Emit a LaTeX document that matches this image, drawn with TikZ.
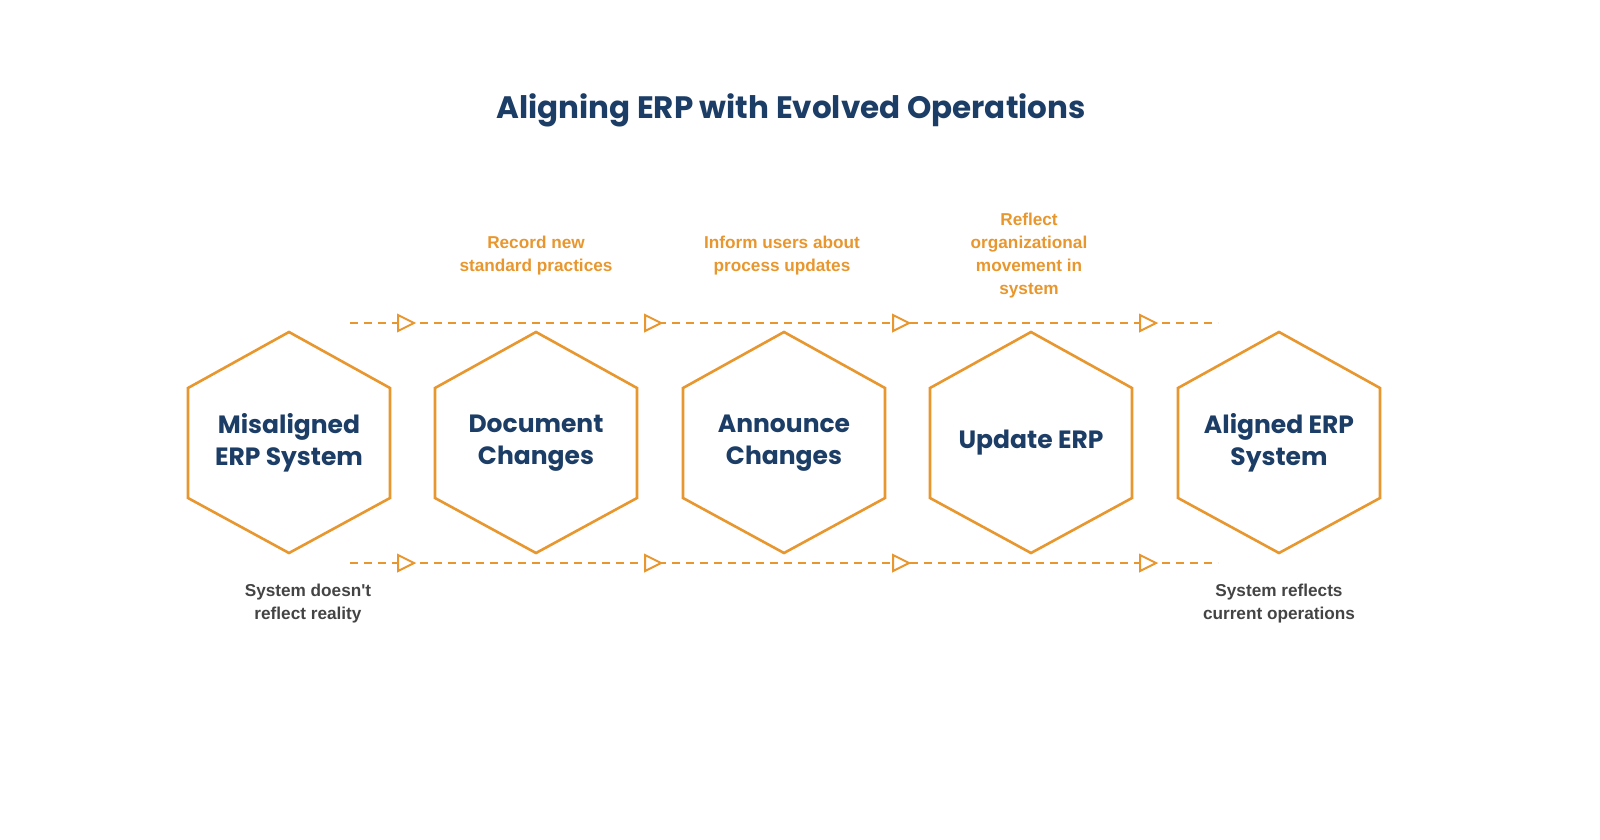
\documentclass[tikz,border=0pt]{standalone}
\usepackage{fontspec}
\setmainfont{Liberation Sans}
\newfontfamily\headfont{Poppins}
\begin{document}
\definecolor{navy}{HTML}{1C3D66}
\definecolor{org}{HTML}{E8962E}
\definecolor{gry}{HTML}{444444}
\begin{tikzpicture}[x=0.5pt,y=-0.5pt,
  hex/.style={draw=org,line width=1.3pt,fill=white},
  htxt/.style={text=navy,font=\headfont\bfseries\fontsize{12.5}{16}\selectfont,align=center},
  otxt/.style={text=org,font=\bfseries\fontsize{8.6}{11.5}\selectfont,align=center},
  gtxt/.style={text=gry,font=\bfseries\fontsize{8.6}{11.5}\selectfont,align=center},
  dline/.style={draw=org,line width=1pt,dash pattern=on 4pt off 3pt},
  tri/.style={draw=org,line width=1pt,fill=white}]
\useasboundingbox (0,0) rectangle (1600,840);
\node[text=navy,font=\headfont\bfseries\fontsize{15.5}{18}\selectfont] (title) at (791,110) {Aligning ERP with Evolved Operations};
\coordinate (tl) at (350,323); \coordinate (tr) at (1218,323);
\coordinate (bl) at (350,563); \coordinate (br) at (1218,563);
\draw[dline] (tl) -- (tr);
\draw[dline] (bl) -- (br);
\foreach \x in {405,652,900,1147}{
  \draw[tri] (\x-7,315) -- (\x+9,323) -- (\x-7,331) -- cycle;
  \draw[tri] (\x-7,555) -- (\x+9,563) -- (\x-7,571) -- cycle;
}
\foreach \x/\n/\t in {289/h1/{Misaligned\\ERP System},536/h2/{Document\\Changes},784/h3/{Announce\\Changes},1031/h4/{Update ERP},1279/h5/{Aligned ERP\\System}}{
  \draw[hex] (\x,332) -- (\x+101,388) -- (\x+101,498) -- (\x,553) -- (\x-101,498) -- (\x-101,388) -- cycle;
  \node[htxt] (\n) at (\x,443) {\t};
}
\node[otxt] (l2) at (536,256) {Record new\\standard practices};
\node[otxt] (l3) at (782,256) {Inform users about\\process updates};
\node[otxt] (l4) at (1029,256) {Reflect\\organizational\\movement in\\system};
\node[gtxt] (b1) at (308,604) {System doesn\textquotesingle t\\reflect reality};
\node[gtxt] (b5) at (1279,604) {System reflects\\current operations};
\end{tikzpicture}
\end{document}
